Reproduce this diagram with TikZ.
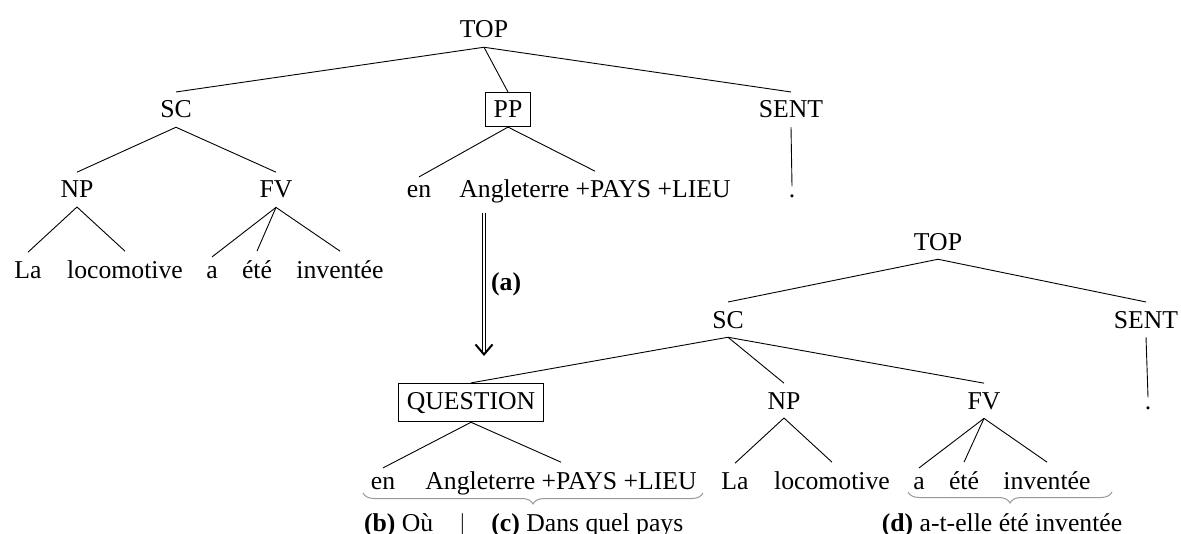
\documentclass[tikz,border=0pt]{standalone}
\usepackage{fontspec}
\setmainfont{Liberation Serif}
\usetikzlibrary{arrows.meta,decorations.pathreplacing}

\begin{document}
\begin{tikzpicture}[x=0.5pt, y=-0.5pt,
    font=\fontsize{12.85}{15.4}\selectfont,
    cat/.style={anchor=base, inner sep=4.3pt},
    boxcat/.style={cat, draw, line width=0.5pt},
    edge/.style={line width=0.45pt},
    brace/.style={decorate, decoration={brace, amplitude=5.5pt}, gray!80, line width=0.5pt}]
    \useasboundingbox (0,0) rectangle (1181,534);

    % first tree
    \node[cat] (top1) at (484,38) {TOP};
    \node[cat] (sc1) at (176,118) {SC};
    \node[boxcat] (pp) at (508,118) {PP};
    \node[cat] (sent1) at (791,118) {SENT};
    \node[cat] (np1) at (77,198) {NP};
    \node[cat] (fv1) at (276,198) {FV};
    \node[cat] (en1) at (419,198) {en};
    \node[cat] (ang1) at (595,198) {Angleterre +PAYS +LIEU};
    \node[cat] (dot1) at (792,198) {.};
    \node[cat] (la1) at (28,278) {La};
    \node[cat] (loco1) at (125,278) {locomotive};
    \node[cat] (a1) at (212,278) {a};
    \node[cat] (ete1) at (257,278) {été};
    \node[cat] (inv1) at (340,278) {inventée};

    % second tree
    \node[cat] (top2) at (938,250) {TOP};
    \node[cat] (sc2) at (728,328) {SC};
    \node[cat] (sent2) at (1146,328) {SENT};
    \node[boxcat] (qu) at (471,409) {QUESTION};
    \node[cat] (np2) at (784,409) {NP};
    \node[cat] (fv2) at (984,409) {FV};
    \node[cat] (dot2) at (1148,409) {.};
    \node[cat] (en2) at (383,489) {en};
    \node[cat] (ang2) at (561,489) {Angleterre +PAYS +LIEU};
    \node[cat] (la2) at (735,489) {La};
    \node[cat] (loco2) at (832,489) {locomotive};
    \node[cat] (a2) at (919,489) {a};
    \node[cat] (ete2) at (964,489) {été};
    \node[cat] (inv2) at (1047,489) {inventée};

    \foreach \p/\c in {top1/sc1, top1/pp, top1/sent1, sc1/np1, sc1/fv1,
        pp/en1, pp/ang1, sent1/dot1, np1/la1, np1/loco1, fv1/a1, fv1/ete1, fv1/inv1,
        top2/sc2, top2/sent2, sc2/qu, sc2/np2, sc2/fv2, sent2/dot2,
        qu/en2, qu/ang2, np2/la2, np2/loco2, fv2/a2, fv2/ete2, fv2/inv2}
        \draw[edge] (\p.south) -- (\c.north);

    % transformation arrow
    \coordinate (astart) at (484,213);
    \coordinate (aend) at (484,356);
    \draw[edge, double, double distance=1.1pt, shorten >=1.5pt] (astart) -- (aend)
        node[midway, right] {\textbf{(a)}};
    \draw[line width=1pt, -{Straight Barb[length=5pt,width=8.5pt]}] ([yshift=1pt]aend) -- (aend);

    % braces and their readings
    \draw[brace] (703,493) -- (363,493);
    \draw[brace] (1112,492) -- (908,492);
    \node[anchor=base west] (lbc) at (357,531) {\textbf{(b)} Où\quad$|$\quad\textbf{(c)} Dans quel pays};
    \node[anchor=base] (ld) at (1002,531) {\textbf{(d)} a-t-elle été inventée};
\end{tikzpicture}
\end{document}
